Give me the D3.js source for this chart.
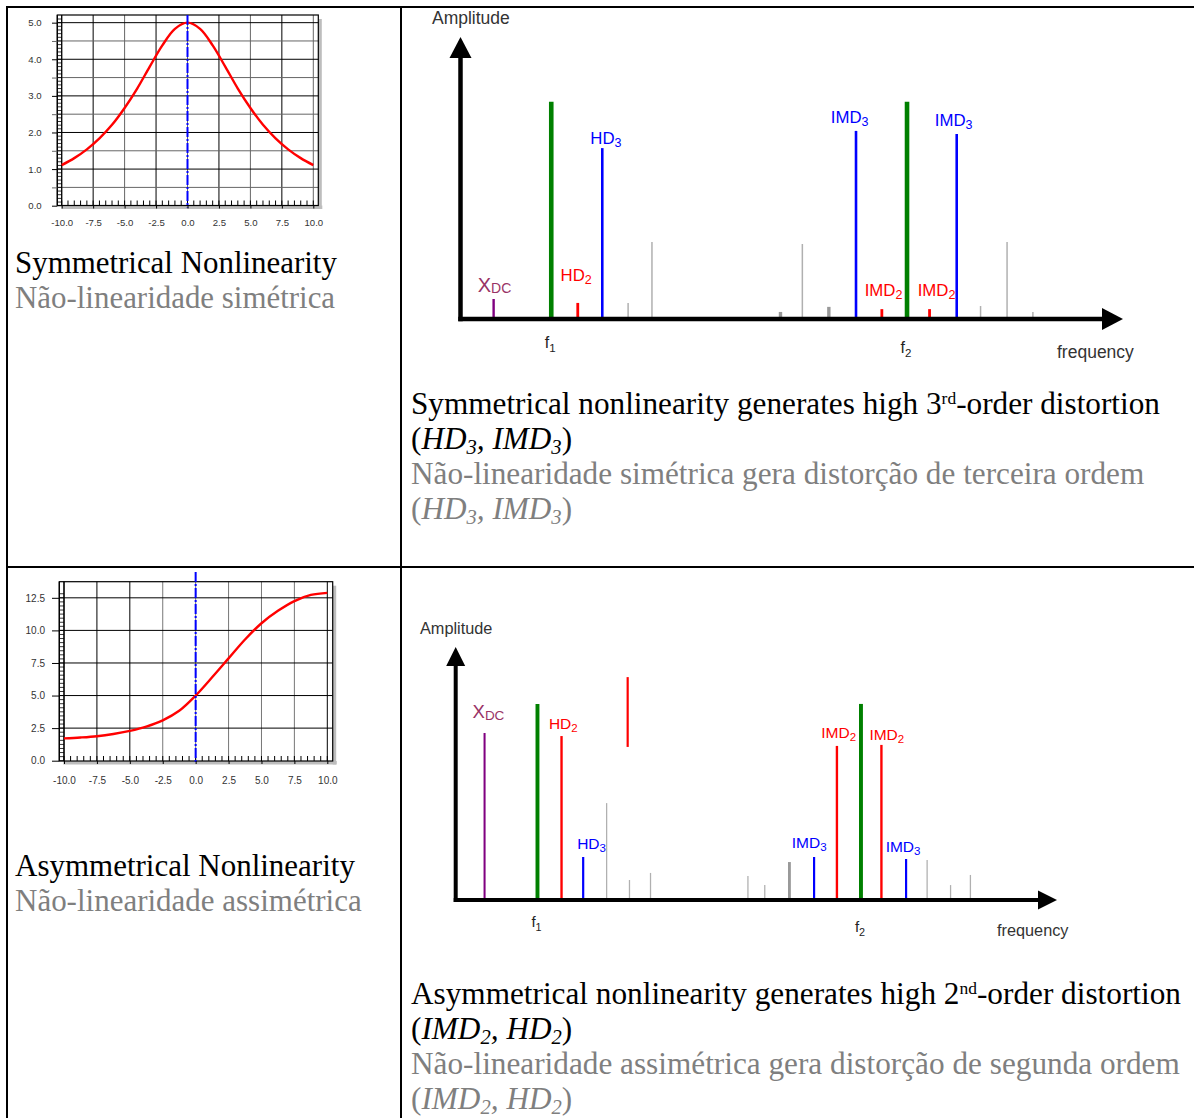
<!DOCTYPE html>
<html>
<head>
<meta charset="utf-8">
<script src="https://cdn.jsdelivr.net/npm/d3@7/dist/d3.min.js"></script>
<style>
  body { margin: 0; background: #fff; }
  svg { display: block; }
</style>
</head>
<body>
<div id="figure"></div>
<script>
// ---- Transfer curves ----
const symX = [-10, -9, -8, -7, -6, -5, -4, -3, -2, -1, 0, 1, 2, 3, 4, 5, 6, 7, 8, 9, 10];
const symY = [1.11, 1.30, 1.54, 1.84, 2.21, 2.67, 3.20, 3.80, 4.38, 4.83, 5.00, 4.83, 4.38, 3.80, 3.20, 2.67, 2.21, 1.84, 1.54, 1.30, 1.11];
const asymX = [-10, -8.75, -7.5, -6.25, -5, -3.75, -2.5, -1.25, 0, 1.25, 2.5, 3.75, 5, 6.25, 7.5, 8.75, 10];
const asymY = [1.71, 1.78, 1.88, 2.05, 2.29, 2.62, 3.10, 3.83, 5.00, 6.40, 7.85, 9.30, 10.55, 11.50, 12.25, 12.72, 12.88];
const xTickVals = [-10, -7.5, -5, -2.5, 0, 2.5, 5, 7.5, 10];
const symYTicks = [0, 1, 2, 3, 4, 5];
const asymYTicks = [0, 2.5, 5, 7.5, 10, 12.5];

// ---- Spectra: frequency and amplitude as % of the drawn axis ----
const symFreq = [5.0, 13.7, 17.7, 21.4, 25.3, 28.9, 48.3, 51.6, 55.6, 59.7, 63.6, 67.4, 70.8, 74.9, 78.5, 82.5, 86.4];
const symAmp  = [7.1, 77, 5.7, 60.6, 5.7, 27.3, 2.5, 26.6, 4.3, 66.7, 3.5, 77, 3.5, 65.6, 4.6, 27.3, 2.5];
const symKind = ['dc', 'fund', 'hd2', 'hd3', 'spur', 'spur', 'spurBold', 'spur', 'spurBold',
                 'imd3', 'imd2', 'fund', 'imd2', 'imd3', 'spur', 'spur', 'spur'];

const asymFreq = [4.8, 13.6, 17.6, 21.2, 25.1, 28.9, 32.4, 48.6, 51.4, 55.5, 59.6, 63.4, 67.4, 70.8, 74.9, 78.4, 82.3, 85.6];
const asymAmp  = [66, 77.5, 64.8, 17, 38.3, 7.9, 10.7, 9.5, 5.9, 15, 17, 60.9, 77.5, 61.3, 16.2, 15.8, 5.9, 9.9];
const asymKind = ['dc', 'fund', 'hd2', 'hd3', 'spur', 'spur', 'spur', 'spur', 'spur', 'spurBold',
                  'imd3', 'imd2', 'fund', 'imd2', 'imd3', 'spur', 'spur', 'spur'];
// the loose red stroke floating above the asymmetric spectrum
const asymStrayFreq = [28.6];
const asymStrayLo = [60.5];
const asymStrayHi = [88.1];

// component labels (left edge / baseline, in the same % units)
const labelText = ['X', 'HD', 'HD', 'IMD', 'IMD', 'IMD', 'IMD'];
const labelSub  = ['DC', '2', '3', '3', '2', '2', '3'];
const symLabelFreq = [2.6, 15.1, 19.6, 55.9, 61.0, 69.0, 71.6];
const symLabelAmp  = [9.6, 13.5, 62.1, 69.6, 8.3, 8.3, 68.5];
const asymLabelFreq = [2.8, 15.5, 20.2, 55.9, 60.8, 68.8, 71.5];
const asymLabelAmp  = [71.9, 67.6, 20.2, 20.5, 64.0, 63.2, 19.1];
const fundSub = ['1', '2'];

// ---- Captions ----
const symTitle = ['Symmetrical Nonlinearity', 'Não-linearidade simétrica'];
const asymTitle = ['Asymmetrical Nonlinearity', 'Não-linearidade assimétrica'];
const symCaption = [
  [{t: 'Symmetrical nonlinearity generates high 3'}, {t: 'rd', s: 'sup'}, {t: '-order distortion'}],
  [{t: '('}, {t: 'HD', s: 'i'}, {t: '3', s: 'isub'}, {t: ', IMD', s: 'i'}, {t: '3', s: 'isub'}, {t: ')'}],
  [{t: 'Não-linearidade simétrica gera distorção de terceira ordem'}],
  [{t: '('}, {t: 'HD', s: 'i'}, {t: '3', s: 'isub'}, {t: ', IMD', s: 'i'}, {t: '3', s: 'isub'}, {t: ')'}]
];
const asymCaption = [
  [{t: 'Asymmetrical nonlinearity generates high 2'}, {t: 'nd', s: 'sup'}, {t: '-order distortion'}],
  [{t: '('}, {t: 'IMD', s: 'i'}, {t: '2', s: 'isub'}, {t: ', HD', s: 'i'}, {t: '2', s: 'isub'}, {t: ')'}],
  [{t: 'Não-linearidade assimétrica gera distorção de segunda ordem'}],
  [{t: '('}, {t: 'IMD', s: 'i'}, {t: '2', s: 'isub'}, {t: ', HD', s: 'i'}, {t: '2', s: 'isub'}, {t: ')'}]
];

const SERIF = '"Liberation Serif", "Times New Roman", Times, serif';
const SANS = '"Liberation Sans", Arial, Helvetica, sans-serif';
const GREY = '#7f7f7f';

const kindColor = {dc: '#800080', fund: '#008000', hd2: '#ff0000', imd2: '#ff0000',
                   hd3: '#0000ff', imd3: '#0000ff', spur: '#b0b0b0', spurBold: '#999999'};
const kindWidth = {dc: 2.4, fund: 4.6, hd2: 2.8, imd2: 2.8, hd3: 2.6, imd3: 2.6, spur: 1.5, spurBold: 3.4};
const subColor = {DC: '#993366', '2': '#ff0000', '3': '#0000ff'};

const svg = d3.select('#figure').append('svg')
  .attr('width', 1194)
  .attr('height', 1118);

// Table frame
const frame = svg.append('g').attr('stroke', '#000').attr('stroke-width', 2);
frame.append('line').attr('x1', 6).attr('x2', 1194).attr('y1', 7).attr('y2', 7);
frame.append('line').attr('x1', 6).attr('x2', 1194).attr('y1', 567).attr('y2', 567);
frame.append('line').attr('x1', 7).attr('x2', 7).attr('y1', 6).attr('y2', 1118);
frame.append('line').attr('x1', 401).attr('x2', 401).attr('y1', 6).attr('y2', 1118);

// ---------- small transfer-curve plots ----------
function drawPlot(cfg, xs, ys, yTicks) {
  const g = svg.append('g');
  const f = cfg.box;
  const x = d3.scaleLinear().domain([-10, 10]).range([cfg.x0, cfg.x1]);
  const y = d3.scaleLinear().domain([0, cfg.yMax]).range([cfg.y0, cfg.y1]);

  // drop shadow
  g.append('rect').attr('x', f.r).attr('y', f.t + 4).attr('width', 3.5).attr('height', f.b - f.t - 0.5).attr('fill', '#bdbdbd');
  g.append('rect').attr('x', f.l + 4).attr('y', f.b).attr('width', f.r - f.l).attr('height', 3.5).attr('fill', '#bdbdbd');
  g.append('rect').attr('x', f.l).attr('y', f.t).attr('width', f.r - f.l).attr('height', f.b - f.t).attr('fill', '#fff');

  // grid
  g.selectAll('.vgrid').data(xTickVals).join('line')
    .attr('x1', d => x(d)).attr('x2', d => x(d))
    .attr('y1', f.t).attr('y2', f.b)
    .attr('stroke', cfg.vColor).attr('stroke-width', 1);
  g.selectAll('.hgrid').data(cfg.hGrid).join('line')
    .attr('x1', f.l).attr('x2', f.r)
    .attr('y1', d => y(d)).attr('y2', d => y(d))
    .attr('stroke', cfg.hColor).attr('stroke-width', 1);

  // minor ticks along the bottom, inside the box
  g.selectAll('.xminor').data(d3.range(-10, 10.001, 0.5)).join('line')
    .attr('x1', d => x(d)).attr('x2', d => x(d))
    .attr('y1', f.b).attr('y2', f.b - 5)
    .attr('stroke', '#000').attr('stroke-width', 1);

  // ladder on the left edge
  g.append('line').attr('x1', f.l).attr('x2', f.l).attr('y1', f.t).attr('y2', f.b).attr('stroke', '#000').attr('stroke-width', 1.2);
  g.append('line').attr('x1', x(-10)).attr('x2', x(-10)).attr('y1', f.t).attr('y2', f.b).attr('stroke', '#000').attr('stroke-width', 1.2);
  g.selectAll('.rung').data(d3.range(0, cfg.yMax + 0.001, cfg.rung)).join('line')
    .attr('x1', f.l).attr('x2', x(-10))
    .attr('y1', d => y(d)).attr('y2', d => y(d))
    .attr('stroke', '#000').attr('stroke-width', 0.8);

  // box
  g.append('rect').attr('x', f.l).attr('y', f.t).attr('width', f.r - f.l).attr('height', f.b - f.t)
    .attr('fill', 'none').attr('stroke', '#000').attr('stroke-width', 1.2);

  // curve
  const line = d3.line().x((d, i) => x(xs[i])).y(d => y(d)).curve(d3.curveCatmullRom);
  g.append('path').attr('d', line(ys)).attr('fill', 'none').attr('stroke', '#ff0000').attr('stroke-width', 2.4);

  // zero marker
  g.append('line').attr('x1', x(0)).attr('x2', x(0)).attr('y1', cfg.dashTop).attr('y2', f.b + 2)
    .attr('stroke', '#0000ff').attr('stroke-width', 2).attr('stroke-dasharray', '10,2,2,2');

  // axes
  const xAxis = d3.axisBottom(x).tickValues(xTickVals).tickFormat(d => d.toFixed(1))
    .tickSize(3).tickPadding(cfg.xPad);
  const gx = g.append('g').attr('transform', `translate(0,${f.b})`).call(xAxis);
  gx.select('.domain').remove();
  gx.attr('font-family', SANS).attr('font-size', cfg.fs);
  gx.selectAll('text').attr('fill', '#333');

  const yAxis = d3.axisLeft(y).tickValues(cfg.hGrid.concat([0]))
    .tickFormat(d => yTicks.includes(d) ? d.toFixed(1) : '')
    .tickSize(f.l - 52).tickPadding(cfg.yPad);
  const gy = g.append('g').attr('transform', `translate(${f.l},0)`).call(yAxis);
  gy.select('.domain').remove();
  gy.attr('font-family', SANS).attr('font-size', cfg.fs);
  gy.selectAll('text').attr('fill', '#333');
  gy.selectAll('.tick line').attr('stroke', cfg.hColor);
}

drawPlot({
  box: {l: 57.3, r: 318.3, t: 15, b: 205.5},
  x0: 61.7, x1: 313.3, y0: 205.7, y1: 19, yMax: 5.1,
  hGrid: [0.5, 1, 1.5, 2, 2.5, 3, 3.5, 4, 4.5, 5],
  vColor: d => Math.abs(d) % 5 === 0 ? '#666' : '#000',
  hColor: d => d % 1 === 0 ? '#000' : '#666',
  rung: 0.1, dashTop: 15, xPad: 10.5, yPad: 10.3, fs: 9.6
}, symX, symY, symYTicks);

drawPlot({
  box: {l: 59.3, r: 332.7, t: 581.7, b: 761},
  x0: 64, x1: 327.3, y0: 760.7, y1: 590, yMax: 13.1,
  hGrid: [2.5, 5, 7.5, 10, 12.5],
  vColor: d => (d <= -5 || d === 10) ? '#000' : '#777',
  hColor: () => '#000',
  rung: 0.3125, dashTop: 572, xPad: 12.5, yPad: 7, fs: 10
}, asymX, asymY, asymYTicks);

// ---------- spectra ----------
function drawSpectrum(cfg, freq, amp, kind, lFreq, lAmp) {
  const g = svg.append('g').attr('font-family', SANS);
  const xS = d3.scaleLinear().domain([0, 100]).range([cfg.x0, cfg.x1]);
  const yS = d3.scaleLinear().domain([0, 100]).range([cfg.y0, cfg.y1]);
  const idx = d3.range(freq.length);

  g.selectAll('.comp').data(idx).join('line').attr('class', 'comp')
    .attr('x1', i => xS(freq[i])).attr('x2', i => xS(freq[i]))
    .attr('y1', yS(0)).attr('y2', i => yS(amp[i]))
    .attr('stroke', i => kindColor[kind[i]])
    .attr('stroke-width', i => kindWidth[kind[i]] * cfg.w);

  if (cfg.stray) {
    g.selectAll('.stray').data(d3.range(asymStrayFreq.length)).join('line')
      .attr('x1', i => xS(asymStrayFreq[i])).attr('x2', i => xS(asymStrayFreq[i]))
      .attr('y1', i => yS(asymStrayLo[i])).attr('y2', i => yS(asymStrayHi[i]))
      .attr('stroke', '#ff0000').attr('stroke-width', 2.2);
  }

  // axes with arrow heads
  const aw = cfg.axisW, ox = xS(0), oy = yS(0), tx = xS(100), ty = yS(100);
  g.append('line').attr('x1', ox).attr('x2', ox).attr('y1', oy + aw / 2).attr('y2', ty + cfg.head - 1)
    .attr('stroke', '#000').attr('stroke-width', aw);
  g.append('path').attr('d', `M${ox - cfg.half},${ty + cfg.head}L${ox},${ty}L${ox + cfg.half},${ty + cfg.head}Z`).attr('fill', '#000');
  g.append('line').attr('x1', ox - aw / 2).attr('x2', tx - cfg.head + 1).attr('y1', oy).attr('y2', oy)
    .attr('stroke', '#000').attr('stroke-width', aw);
  g.append('path').attr('d', `M${tx - cfg.head},${oy - cfg.half}L${tx},${oy}L${tx - cfg.head},${oy + cfg.half}Z`).attr('fill', '#000');

  // component labels
  labelText.forEach((txt, i) => {
    const isDC = labelSub[i] === 'DC';
    const t = g.append('text')
      .attr('x', xS(lFreq[i])).attr('y', yS(lAmp[i]))
      .attr('fill', subColor[labelSub[i]])
      .attr('font-size', isDC ? cfg.xSize : cfg.lblSize);
    t.append('tspan').text(txt);
    t.append('tspan').text(labelSub[i])
      .attr('font-size', isDC ? cfg.dcSize : cfg.subSize)
      .attr('dy', isDC ? cfg.dcDy : cfg.subDy);
  });

  // f1 / f2
  const fundIdx = idx.filter(i => kind[i] === 'fund');
  fundIdx.forEach((i, k) => {
    const t = g.append('text')
      .attr('x', xS(freq[i]) - 1).attr('y', oy + cfg.fDy[k])
      .attr('text-anchor', 'middle').attr('fill', '#222').attr('font-size', cfg.fSize);
    t.append('tspan').text('f');
    t.append('tspan').text(fundSub[k]).attr('font-size', cfg.fSize * 0.72).attr('dy', 3.5);
  });

  g.append('text').attr('x', cfg.ampPos[0]).attr('y', cfg.ampPos[1])
    .attr('font-size', cfg.axSize).attr('fill', '#333').text('Amplitude');
  g.append('text').attr('x', cfg.freqPos[0]).attr('y', cfg.freqPos[1])
    .attr('font-size', cfg.axSize).attr('fill', '#333').text('frequency');
}

drawSpectrum({
  x0: 460.5, x1: 1123, y0: 319, y1: 37, w: 1,
  axisW: 4.5, head: 21, half: 11,
  lblSize: 16.8, subSize: 12.5, subDy: 3.5, xSize: 20, dcSize: 14, dcDy: 1,
  fSize: 16, fDy: [29, 34], axSize: 17.5,
  ampPos: [432, 24], freqPos: [1057, 358]
}, symFreq, symAmp, symKind, symLabelFreq, symLabelAmp);

drawSpectrum({
  x0: 455.7, x1: 1057, y0: 900, y1: 647, w: 0.85, stray: true,
  axisW: 4, head: 19, half: 9.5,
  lblSize: 15.5, subSize: 11.5, subDy: 3, xSize: 18.5, dcSize: 13.5, dcDy: 2,
  fSize: 15, fDy: [27, 32], axSize: 16.3,
  ampPos: [420, 634], freqPos: [997, 936]
}, asymFreq, asymAmp, asymKind, asymLabelFreq, asymLabelAmp);

// ---------- captions ----------
function paragraph(x, baselines, lines, colors, fs) {
  const g = svg.append('g').attr('font-family', SERIF);
  lines.forEach((segs, li) => {
    const t = g.append('text').attr('x', x).attr('y', baselines[li])
      .attr('fill', colors[li]).attr('font-size', fs);
    let shift = 0;
    segs.forEach(sg => {
      const want = sg.s === 'sup' ? -0.32 * fs : sg.s === 'isub' ? 0.15 * fs : 0;
      const sp = t.append('tspan').text(sg.t).attr('dy', want - shift);
      shift = want;
      if (sg.s === 'sup') sp.attr('font-size', 0.56 * fs);
      if (sg.s === 'isub') sp.attr('font-size', 0.66 * fs).attr('font-style', 'italic');
      if (sg.s === 'i') sp.attr('font-style', 'italic');
    });
  });
  return g;
}

// size the first line to the width it has in the picture, the rest follows
function fitted(x, baselines, lines, colors, width) {
  let g = paragraph(x, baselines, lines, colors, 30);
  const w = g.select('text').node().getComputedTextLength();
  g.remove();
  return paragraph(x, baselines, lines, colors, 30 * width / w);
}

const asText = arr => arr.map(s => [{t: s}]);
fitted(15, [273, 308], asText(symTitle), ['#000', GREY], 322);
fitted(15, [876, 911], asText(asymTitle), ['#000', GREY], 340);
fitted(411, [414, 449, 484, 519], symCaption, ['#000', '#000', GREY, GREY], 749);
fitted(411, [1004, 1039, 1074, 1109], asymCaption, ['#000', '#000', GREY, GREY], 770);
</script>
</body>
</html>
